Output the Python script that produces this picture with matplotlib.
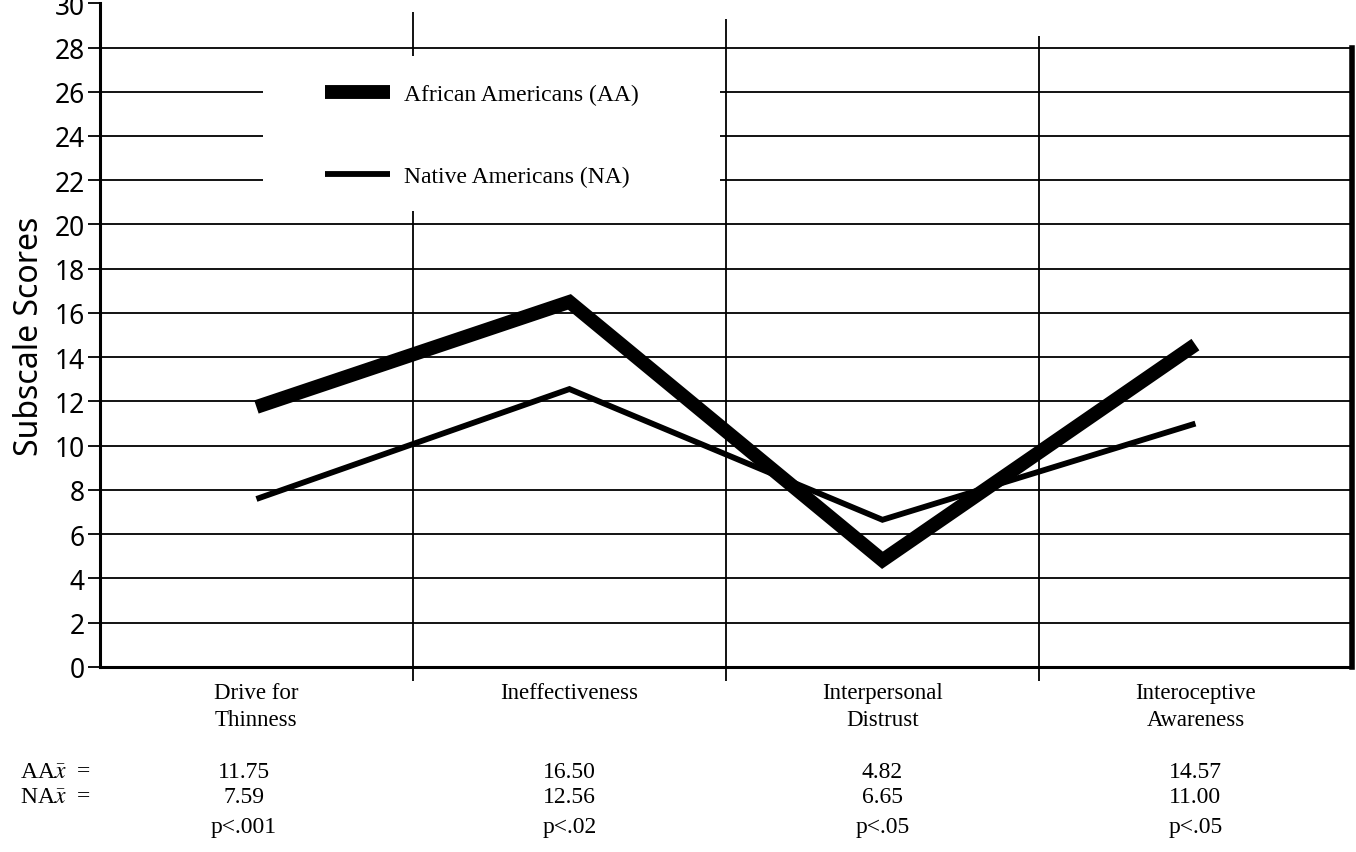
import numpy as np
import matplotlib.pyplot as plt
from matplotlib.patches import Rectangle

plt.rcParams['mathtext.fontset'] = 'stix'

categories = ['Drive for\nThinness', 'Ineffectiveness', 'Interpersonal\nDistrust', 'Interoceptive\nAwareness']
aa_means = [11.75, 16.50, 4.82, 14.57]
na_means = [7.59, 12.56, 6.65, 11.00]
p_values = ['p<.001', 'p<.02', 'p<.05', 'p<.05']
yticks = list(range(0, 31, 2))

serif = 'Liberation Serif'
sans = 'Noto Sans'

fig = plt.figure(figsize=(13.56, 8.53), dpi=100)
ax = fig.add_axes([0.0737, 0.217, 0.9233, 0.778])

xpos = np.arange(len(categories)) + 0.5
ax.set_xlim(0, len(categories))
ax.set_ylim(0, 30)

# horizontal rules and category dividers
ax.hlines(yticks[1:-1], 0, len(categories), color='black', lw=1.3, zorder=0.5)
ax.vlines([1, 2, 3], 0, [29.6, 29.3, 28.5], color='black', lw=1.3, zorder=0.5)

# blank panel behind the key
ax.add_patch(Rectangle((0.52, 20.6), 1.46, 7.0, facecolor='white', edgecolor='none', zorder=1))

ax.plot(xpos, aa_means, color='black', lw=10, solid_joinstyle='miter',
        solid_capstyle='butt', zorder=3, label='African Americans (AA)')
ax.plot(xpos, na_means, color='black', lw=4.2, solid_joinstyle='miter',
        solid_capstyle='butt', zorder=3, label='Native Americans (NA)')

leg = ax.legend(loc='upper left', bbox_to_anchor=(0.68, 26.9), bbox_transform=ax.transData,
                frameon=False, borderpad=0, handlelength=2.75, handletextpad=0.6,
                labelspacing=2.55, prop={'family': serif, 'size': 17})
leg.set_zorder(4)

ax.spines['top'].set_visible(False)
ax.spines['left'].set_linewidth(2.2)
ax.spines['bottom'].set_linewidth(2.2)
ax.spines['right'].set_linewidth(4)
ax.spines['right'].set_bounds(0, 28)

ax.set_yticks(yticks)
ax.set_yticklabels([str(t) for t in yticks], fontfamily=sans, fontsize=19)
ax.tick_params(axis='y', direction='out', length=9, width=1.3, pad=2)
ax.set_ylabel('Subscale Scores', fontfamily=sans, fontsize=23, labelpad=6)

ax.set_xticks([1, 2, 3])
ax.set_xticklabels([])
ax.tick_params(axis='x', which='major', direction='out', length=10, width=1.3)
ax.set_xticks(xpos, minor=True)
ax.set_xticklabels(categories, minor=True, fontfamily=serif, fontsize=16.5, linespacing=1.35)
ax.tick_params(axis='x', which='minor', length=0, pad=11)

# summary rows under the axis
tr = ax.get_xaxis_transform()
rows = [(-0.158, r'AA$\bar{x}$  =', [f'{v:.2f}' for v in aa_means]),
        (-0.196, r'NA$\bar{x}$  =', [f'{v:.2f}' for v in na_means]),
        (-0.241, '', p_values)]
for y, head, vals in rows:
    if head:
        ax.text(-0.255, y, head, transform=tr, ha='left', va='center',
                fontfamily=serif, fontsize=17)
    for x, v in zip(xpos, vals):
        ax.text(x - 0.04 if x < 1 else x, y, v, transform=tr, ha='center', va='center',
                fontfamily=serif, fontsize=17)

fig.savefig('out.png', dpi=100)
